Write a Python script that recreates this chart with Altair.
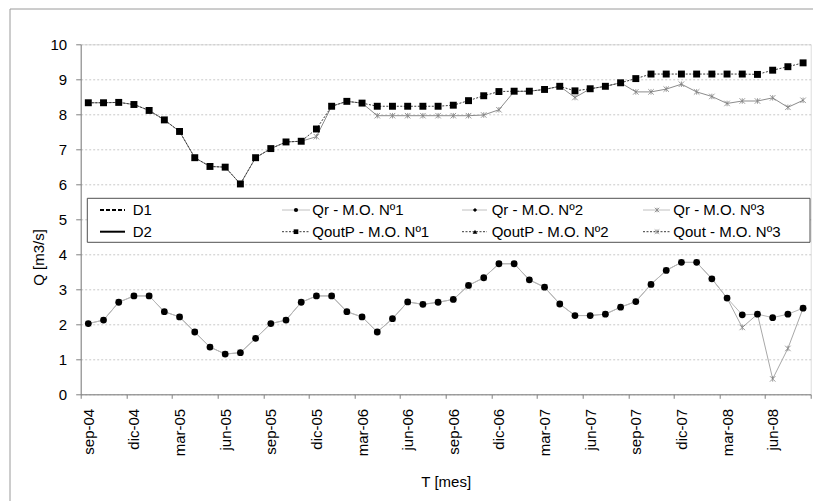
import json
import altair as alt
import pandas as pd

# ---------------- data ----------------
months = [
    "sep-04", "oct-04", "nov-04", "dic-04", "ene-05", "feb-05", "mar-05", "abr-05",
    "may-05", "jun-05", "jul-05", "ago-05", "sep-05", "oct-05", "nov-05", "dic-05",
    "ene-06", "feb-06", "mar-06", "abr-06", "may-06", "jun-06", "jul-06", "ago-06",
    "sep-06", "oct-06", "nov-06", "dic-06", "ene-07", "feb-07", "mar-07", "abr-07",
    "may-07", "jun-07", "jul-07", "ago-07", "sep-07", "oct-07", "nov-07", "dic-07",
    "ene-08", "feb-08", "mar-08", "abr-08", "may-08", "jun-08", "jul-08", "ago-08",
]

qoutp_mo1 = [8.33, 8.33, 8.34, 8.28, 8.11, 7.84, 7.51, 6.76, 6.51, 6.49,
             6.01, 6.76, 7.02, 7.21, 7.23, 7.58, 8.23, 8.37, 8.32, 8.23,
             8.23, 8.23, 8.23, 8.23, 8.26, 8.39, 8.53, 8.65, 8.66, 8.66,
             8.71, 8.80, 8.67, 8.73, 8.80, 8.90, 9.02, 9.15, 9.15, 9.15,
             9.15, 9.15, 9.15, 9.15, 9.14, 9.26, 9.36, 9.47]

qout_mo3 = [8.33, 8.33, 8.34, 8.28, 8.11, 7.84, 7.51, 6.76, 6.51, 6.49,
            6.01, 6.76, 7.02, 7.21, 7.23, 7.36, 8.23, 8.37, 8.32, 7.96,
            7.96, 7.96, 7.96, 7.96, 7.96, 7.96, 7.98, 8.13, 8.65, 8.66,
            8.71, 8.80, 8.48, 8.73, 8.80, 8.90, 8.64, 8.64, 8.72, 8.86,
            8.64, 8.51, 8.31, 8.38, 8.38, 8.47, 8.20, 8.40]

qr_mo1 = [2.02, 2.12, 2.63, 2.81, 2.81, 2.36, 2.21, 1.78, 1.35, 1.15,
          1.19, 1.60, 2.02, 2.12, 2.63, 2.81, 2.81, 2.36, 2.21, 1.78,
          2.16, 2.64, 2.57, 2.63, 2.71, 3.11, 3.33, 3.73, 3.73, 3.27,
          3.06, 2.58, 2.25, 2.25, 2.29, 2.49, 2.65, 3.14, 3.54, 3.77,
          3.77, 3.30, 2.75, 2.27, 2.29, 2.19, 2.29, 2.46]

qr_mo3 = [2.02, 2.12, 2.63, 2.81, 2.81, 2.36, 2.21, 1.78, 1.35, 1.15,
          1.19, 1.60, 2.02, 2.12, 2.63, 2.81, 2.81, 2.36, 2.21, 1.78,
          2.16, 2.64, 2.57, 2.63, 2.71, 3.11, 3.33, 3.73, 3.73, 3.27,
          3.06, 2.58, 2.25, 2.25, 2.29, 2.49, 2.65, 3.14, 3.54, 3.77,
          3.77, 3.30, 2.75, 1.91, 2.29, 0.44, 1.31, 2.46]

legend_labels = ["D1", "Qr - M.O. Nº1", "Qr - M.O. Nº2", "Qr - M.O. Nº3",
                 "D2", "QoutP - M.O. Nº1", "QoutP - M.O. Nº2", "Qout - M.O. Nº3"]

y_ticks = list(range(0, 11))

# ---------------- layout ----------------
W, H = 730, 350
PAD_L, PAD_T = 80.7, 44.3
FONT = "Liberation Sans"
XSTAR = "M-1,-1L1,1M-1,1L1,-1M0,-1L0,1"


def frame(vals):
    return pd.DataFrame({"i": list(range(len(vals))), "q": vals})


label_expr = json.dumps(months) + "[round(datum.value + 0.5)] || ''"

x_enc = alt.X(
    "i:Q",
    scale=alt.Scale(domain=[-0.5, len(months) - 0.5], nice=False, zero=False),
    axis=alt.Axis(
        values=[-0.5 + 3 * k for k in range(17)],
        labelExpr=label_expr,
        labelAngle=270,
        labelOffset=7.6,
        labelFlush=False,
        labelOverlap=False,
        labelBound=False,
        labelFont=FONT,
        labelFontSize=15,
        labelColor="#000000",
        labelPadding=10,
        tickSize=4,
        tickColor="#808080",
        domainColor="#808080",
        grid=False,
        title="T [mes]",
        titleFont=FONT,
        titleFontSize=15,
        titleFontWeight="normal",
        titleColor="#000000",
        titlePadding=19,
    ),
)

y_enc = alt.Y(
    "q:Q",
    scale=alt.Scale(domain=[0, 10], nice=False, zero=True),
    axis=alt.Axis(
        values=y_ticks,
        format="d",
        labelFont=FONT,
        labelFontSize=15,
        labelColor="#000000",
        labelPadding=9,
        tickSize=5,
        tickColor="#808080",
        domainColor="#808080",
        grid=True,
        gridColor="#c8c8c8",
        gridDash=[2, 2],
        gridWidth=1,
        title="Q [m3/s]",
        titleFont=FONT,
        titleFontSize=15,
        titleFontWeight="normal",
        titleColor="#000000",
        titlePadding=4,
        titleY=257 - PAD_T,
    ),
)


def series_layers(vals, line_props, pt_props):
    base = alt.Chart(frame(vals))
    line = base.mark_line(**line_props).encode(x=x_enc, y=y_enc)
    pts = base.mark_point(**pt_props).encode(x=x_enc, y=y_enc)
    return [line, pts]


layers = []

# outer frame (decoration)
layers.append(alt.Chart(frame([0])).mark_rule(color="#9a9a9a", strokeWidth=1).encode(
    x=alt.value(10 - PAD_L), y=alt.value(9 - PAD_T), y2=alt.value(501 - PAD_T)))
layers.append(alt.Chart(frame([0])).mark_rule(color="#9a9a9a", strokeWidth=1).encode(
    x=alt.value(10 - PAD_L), x2=alt.value(813 - PAD_L), y=alt.value(9 - PAD_T)))

# upper series
layers += series_layers(qout_mo3,
                        dict(color="#8c8c8c", strokeWidth=1),
                        dict(shape=XSTAR, filled=False, stroke="#707070", strokeWidth=1, size=30))
layers += series_layers(qoutp_mo1,
                        dict(color="#3a3a3a", strokeWidth=1, strokeDash=[2, 1.5]),
                        dict(shape="square", filled=True, color="#000000", size=48, opacity=1))
# lower series
layers += series_layers(qr_mo3,
                        dict(color="#a8a8a8", strokeWidth=1),
                        dict(shape=XSTAR, filled=False, stroke="#707070", strokeWidth=1, size=30))
layers += series_layers(qr_mo1,
                        dict(color="#b8b8b8", strokeWidth=1),
                        dict(shape="circle", filled=True, color="#000000", size=46, opacity=1))

# ---------------- legend (drawn) ----------------
leg = alt.Chart(frame([0]))
layers.append(leg.mark_rect(fill="#ffffff", stroke="#505050", strokeWidth=1).encode(
    x=alt.value(87.3 - PAD_L), x2=alt.value(810 - PAD_L),
    y=alt.value(198.3 - PAD_T), y2=alt.value(242.3 - PAD_T)))

row_y = [210 - PAD_T, 231.7 - PAD_T]
col_line = [(100, 125), (282, 310), (462, 487), (643, 670)]
col_mark = [None, 296, 475, 657]
col_text = [132.7, 312.3, 491.7, 673.3]

line_styles = [
    dict(color="#000000", strokeWidth=2, strokeDash=[4, 2]),
    dict(color="#c0c0c0", strokeWidth=1),
    dict(color="#c0c0c0", strokeWidth=1),
    dict(color="#c0c0c0", strokeWidth=1),
    dict(color="#000000", strokeWidth=2),
    dict(color="#3a3a3a", strokeWidth=1, strokeDash=[2, 1.5]),
    dict(color="#3a3a3a", strokeWidth=1, strokeDash=[2, 1.5]),
    dict(color="#3a3a3a", strokeWidth=1, strokeDash=[2, 1.5]),
]
marker_styles = [
    None,
    dict(shape="circle", filled=True, color="#000000", size=18, opacity=1),
    dict(shape="diamond", filled=True, color="#000000", size=18, opacity=1),
    dict(shape=XSTAR, filled=False, stroke="#707070", strokeWidth=1, size=20),
    None,
    dict(shape="square", filled=True, color="#000000", size=22, opacity=1),
    dict(shape="triangle-up", filled=True, color="#000000", size=22, opacity=1),
    dict(shape=XSTAR, filled=False, stroke="#707070", strokeWidth=1, size=20),
]

for k, lab in enumerate(legend_labels):
    r, c = divmod(k, 4)
    yy = row_y[r]
    x0, x1 = col_line[c]
    layers.append(leg.mark_rule(**line_styles[k]).encode(
        x=alt.value(x0 - PAD_L), x2=alt.value(x1 - PAD_L), y=alt.value(yy)))
    if marker_styles[k] is not None:
        layers.append(leg.mark_point(**marker_styles[k]).encode(
            x=alt.value(col_mark[c] - PAD_L), y=alt.value(yy)))
    layers.append(leg.mark_text(text=lab, align="left", baseline="middle", font=FONT,
                                fontSize=15, color="#000000").encode(
        x=alt.value(col_text[c] - PAD_L), y=alt.value(yy)))

chart = alt.layer(*layers).properties(
    width=W,
    height=H,
    autosize=alt.AutoSizeParams(type="none"),
    padding={"left": PAD_L, "top": PAD_T, "right": 813 - PAD_L - W, "bottom": 501 - PAD_T - H},
    background="#ffffff",
).configure_view(stroke=None).configure(font=FONT)

chart.save("out.html", embed_options={"renderer": "svg", "actions": False})
